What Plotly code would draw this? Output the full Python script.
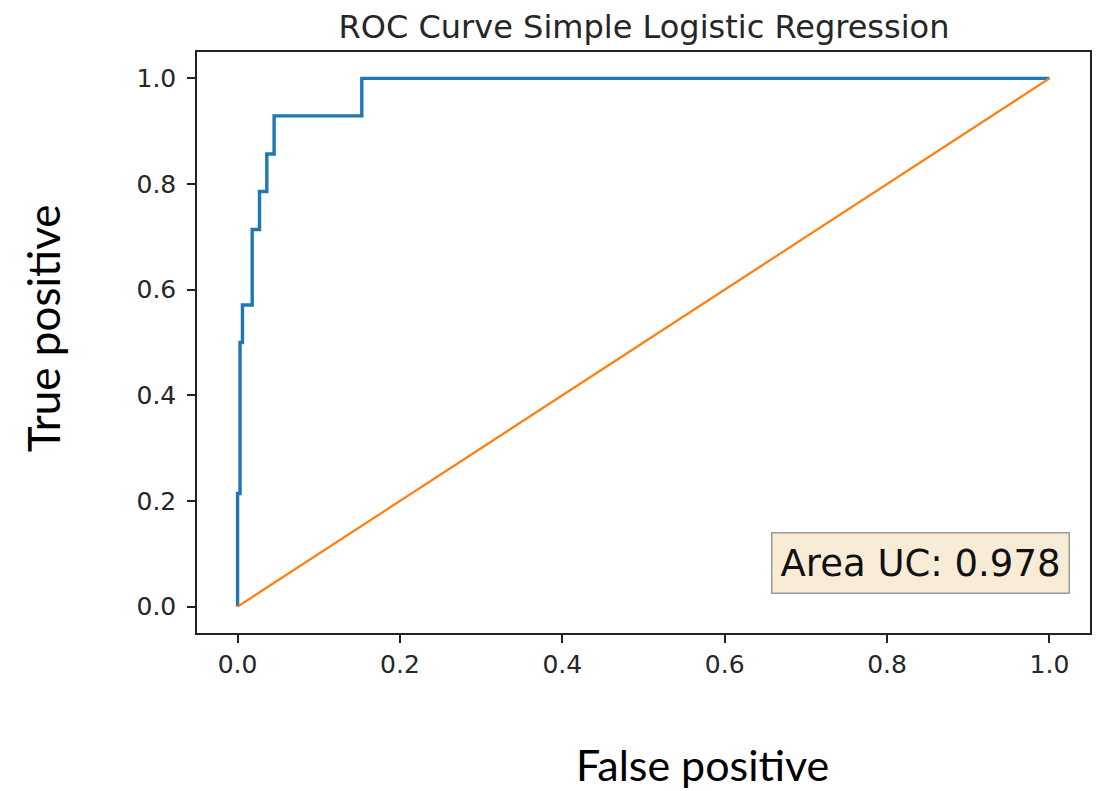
import plotly.graph_objects as go

# ROC curve points (false positive rate, true positive rate)
fpr = [0.0, 0.0, 0.003, 0.003, 0.006, 0.006, 0.018, 0.018, 0.027, 0.027,
       0.036, 0.036, 0.045, 0.045, 0.153, 0.153, 1.0]
tpr = [0.0, 0.214, 0.214, 0.5, 0.5, 0.571, 0.571, 0.714, 0.714, 0.786,
       0.786, 0.857, 0.857, 0.929, 0.929, 1.0, 1.0]

# chance diagonal
diag_x = [0.0, 1.0]
diag_y = [0.0, 1.0]

tick_vals = [0.0, 0.2, 0.4, 0.6, 0.8, 1.0]
tick_text = ["0.0", "0.2", "0.4", "0.6", "0.8", "1.0"]

auc_value = 0.978
title_text = "ROC Curve Simple Logistic Regression"
x_label = "False positive"
y_label = "True positive"

W, H = 1102, 791
L, R, T, B = 197, 10, 52, 158

fig = go.Figure()
fig.add_trace(go.Scatter(x=fpr, y=tpr, mode="lines",
                         line=dict(color="#1f77b4", width=3.4),
                         showlegend=False, hoverinfo="skip"))
fig.add_trace(go.Scatter(x=diag_x, y=diag_y, mode="lines",
                         line=dict(color="#ff7f0e", width=2.2),
                         showlegend=False, hoverinfo="skip"))

tick_font = dict(family="DejaVu Sans", size=25, color="#262626")
axis_common = dict(showgrid=False, zeroline=False, showline=True, mirror=True,
                   linecolor="#222222", linewidth=1.5, ticks="outside",
                   ticklen=8, tickwidth=1.5, tickcolor="#222222",
                   tickvals=tick_vals, ticktext=tick_text, tickfont=tick_font)

fig.update_layout(
    width=W, height=H,
    margin=dict(l=L, r=R, t=T, b=B, pad=0),
    paper_bgcolor="white", plot_bgcolor="white",
    xaxis=dict(range=[-0.05, 1.05], **axis_common),
    yaxis=dict(range=[-0.05, 1.05], ticklabelstandoff=6, **axis_common),
    title=dict(text=title_text, x=(644 / W), xanchor="center",
               y=1 - 27 / H, yanchor="middle", yref="container",
               font=dict(family="DejaVu Sans", size=32, color="#262626")),
)

pw = W - L - R
ph = H - T - B

fig.add_annotation(
    text=f"Area UC: {auc_value:.3f}",
    xref="paper", yref="paper",
    x=(1072 - L) / pw, y=(H - B - 594) / ph,
    xanchor="right", yanchor="bottom", showarrow=False,
    font=dict(family="DejaVu Sans", size=37, color="#111111"),
    bgcolor="#f8ecd6", bordercolor="#9a9a9a", borderwidth=1.5, borderpad=8,
)

fig.add_annotation(
    text=x_label, xref="paper", yref="paper",
    x=(704 - L) / pw, y=(H - B - 764) / ph,
    xanchor="center", yanchor="middle", showarrow=False,
    font=dict(family="Lato", size=43, color="black"),
)
fig.add_annotation(
    text=y_label, xref="paper", yref="paper",
    x=(43 - L) / pw, y=(H - B - 328) / ph,
    xanchor="center", yanchor="middle", showarrow=False, textangle=-90,
    font=dict(family="Lato", size=44, color="black"),
)

fig.write_html("out.html", config={"displayModeBar": False},
               post_script="document.body.style.margin='0';")
